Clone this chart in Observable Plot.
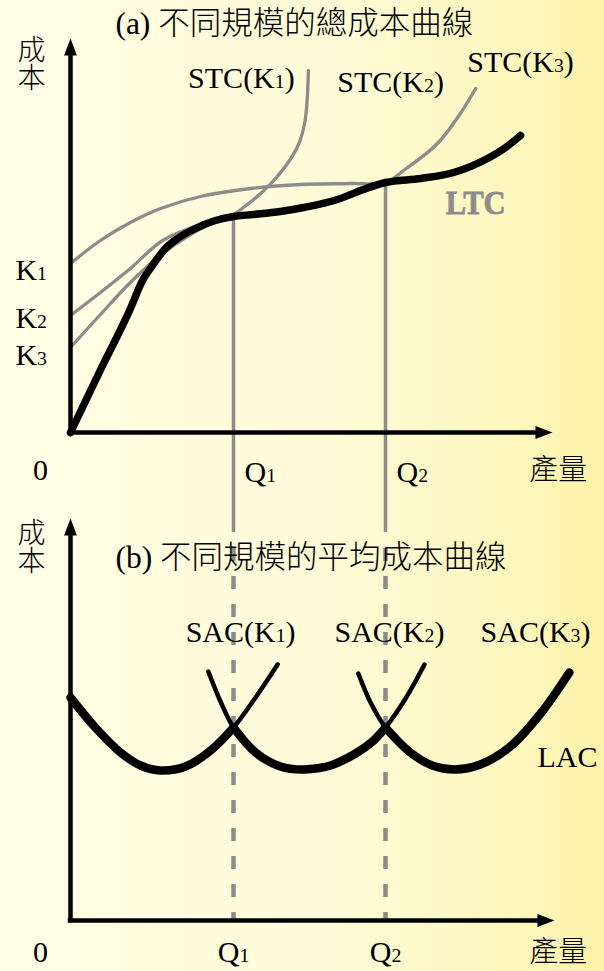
<!DOCTYPE html>
<html><head><meta charset="utf-8">
<script src="https://cdn.jsdelivr.net/npm/d3@7"></script>
<script src="https://cdn.jsdelivr.net/npm/@observablehq/plot@0.6"></script>
<style>
html,body{margin:0;padding:0;}
body{width:604px;height:971px;overflow:hidden;background:linear-gradient(to right,#fffde6 0%,#fffbd8 55%,#fdf6bb 88%,#fcf2a8 100%);}
svg{display:block}
</style></head><body><div id="chart"></div>
<script>
// ---------- data (quantity q, cost c) ----------
const Q1 = 4.14, Q2 = 8.0;
const qTicks = ["Q1", "Q2"];
const costLabel = "成本", qtyLabel = "產量", zeroLabel = "0";
const titleA = "(a) 不同規模的總成本曲線";
const titleB = "(b) 不同規模的平均成本曲線";
const kNames = ["K1", "K2", "K3"];
const kValues = [6.48, 4.56, 3.08];
const stcNames = ["STC(K1)", "STC(K2)", "STC(K3)"];
const sacNames = ["SAC(K1)", "SAC(K2)", "SAC(K3)"];

// long-run total cost
const ltc = [[0,0],[0.76,2.50],[1.50,4.88],[1.83,6.08],[2.08,6.68],[2.41,7.36],[2.72,7.76],[3.17,8.16],[3.68,8.48],[4.14,8.64],[4.65,8.72],[5.33,8.84],[5.92,9.00],[6.78,9.32],[7.44,9.72],[8.00,10.00],[8.89,10.16],[9.73,10.40],[10.59,10.96],[11.05,11.40],[11.43,11.88]];
// short-run total cost curves
const stcSteep = [[0,4.68],[0.76,5.60],[1.52,6.56],[2.34,7.68],[3.30,8.32],[4.14,8.72],[4.39,9.00],[4.83,9.56],[5.16,10.08],[5.51,10.76],[5.79,11.52],[5.95,12.40],[6.02,13.56],[6.04,14.48]];
const stcFlat = [[0,6.76],[0.76,7.68],[1.52,8.40],[2.29,8.96],[3.30,9.44],[4.57,9.76],[5.84,9.92],[7.11,9.96],[8.00,10.00],[8.46,10.48],[9.32,11.56],[9.90,12.76],[10.29,13.76]];
const stcLow = [[0,3.40],[0.76,4.72],[1.52,6.00],[2.34,7.16],[3.05,7.92],[3.68,8.44]];
// short-run average cost curves
const sac1 = [[0,8.92],[0.63,7.72],[1.27,6.72],[1.78,6.20],[2.29,6.00],[2.92,6.16],[3.56,6.80],[4.14,7.72],[4.70,8.92],[5.26,10.24]];
const sac2 = [[3.50,9.96],[3.81,8.76],[4.14,7.72],[4.70,6.72],[5.33,6.16],[5.94,6.04],[6.60,6.20],[7.24,6.68],[7.67,7.16],[8.00,7.72],[8.51,8.88],[8.99,10.24]];
const sac3 = [[7.31,9.88],[7.62,8.72],[8.00,7.72],[8.63,6.72],[9.19,6.20],[9.75,6.04],[10.41,6.24],[11.17,6.96],[11.94,8.28],[12.67,9.92]];

// ---------- derived ----------
const ltcAt = q => ltc.find(d => d[0] === q)[1];
const lac = [
  ...sac1.filter(d => d[0] <= Q1).map(d => ({q:d[0], c:d[1], s:1})),
  ...sac2.filter(d => d[0] >= Q1 && d[0] <= Q2).map(d => ({q:d[0], c:d[1], s:2})),
  ...sac3.filter(d => d[0] >= Q2).map(d => ({q:d[0], c:d[1], s:3}))
];

const gray = "#8c8c8c";
const serif = "'Liberation Serif','Times New Roman',serif";
const cjk = "'Noto Sans CJK TC','Noto Sans CJK SC',sans-serif";
const mixed = "'Liberation Serif','Noto Sans CJK TC',serif";
const arrowHead = {draw(ctx, size){ const L = Math.sqrt(size/Math.PI); ctx.moveTo(0,0); ctx.lineTo(0.38*L, L); ctx.lineTo(-0.38*L, L); ctx.closePath(); }};
const X = d => d[0], Y = d => d[1];
const xDomain = [-70/39.375, (604-70)/39.375];
const smooth = "catmull-rom";

function axes(yTip, xTip){
  return [
    Plot.ruleX([0], {y1:-0.09, y2:yTip-0.5, stroke:"black", strokeWidth:4.5}),
    Plot.ruleY([0], {x1:-0.057, x2:xTip-0.3, stroke:"black", strokeWidth:4.5}),
    Plot.dot([[0,yTip]], {x:X, y:Y, symbol:arrowHead, r:17, fill:"black", stroke:"none", rotate:0}),
    Plot.dot([[xTip,0]], {x:X, y:Y, symbol:arrowHead, r:17, fill:"black", stroke:"none", rotate:90})
  ];
}

const plotA = Plot.plot({
  width:604, height:533, marginLeft:0, marginRight:0, marginTop:0, marginBottom:0,
  style:{background:"transparent", overflow:"visible"},
  x:{domain:xDomain, axis:null}, y:{domain:[(432-533)/25, 432/25], axis:null},
  marks:[
    Plot.line(stcFlat, {x:X, y:Y, stroke:gray, strokeWidth:3.3, curve:smooth}),
    Plot.line(stcSteep, {x:X, y:Y, stroke:gray, strokeWidth:3.3, curve:smooth}),
    Plot.line(stcLow, {x:X, y:Y, stroke:gray, strokeWidth:3.3, curve:smooth}),
    Plot.ruleX([Q1, Q2], {x:d=>d, y1:d=>ltcAt(d), y2:(432-532)/25, stroke:gray, strokeWidth:3.5}),
    Plot.line(ltc, {x:X, y:Y, stroke:"black", strokeWidth:7.5, curve:"monotone-x"}),
    ...axes((432-38)/25, 12.24),
    Plot.text([titleA], {x:1.14, y:16.36, text:d=>d, textAnchor:"start", fontSize:31.5, fontFamily:mixed, fontWeight:300, fill:"black"}),
    Plot.text([costLabel], {x:-0.99, y:15.14, text:d=>d, fontSize:28, fontFamily:cjk, fontWeight:300, fill:"black"}),
    Plot.text(kNames, {x:-1.40, y:(d,i)=>kValues[i], text:d=>d, textAnchor:"start", fontSize:30, fontFamily:serif, fill:"black"}),
    Plot.text(stcNames, {x:(d,i)=>[4.34,8.13,11.43][i], y:(d,i)=>[14.16,14.0,14.8][i], text:d=>d, fontSize:30, fontFamily:serif, fill:"black"}),
    Plot.text(["LTC"], {x:10.29, y:9.16, text:d=>d, fontSize:34, fontWeight:"bold", fontFamily:serif, fill:gray, stroke:gray, strokeWidth:0.8}),
    Plot.text([zeroLabel], {x:-0.76, y:-1.52, text:d=>d, fontSize:30, fontFamily:serif, fill:"black"}),
    Plot.text(qTicks, {x:(d,i)=>[Q1,Q2][i]+0.28, y:-1.6, text:d=>d, textAnchor:"start", fontSize:30, fontFamily:serif, fill:"black"}),
    Plot.text([qtyLabel], {x:12.39, y:-1.52, text:d=>d, fontSize:29, fontFamily:cjk, fontWeight:300, fill:"black"})
  ]
});

const plotB = Plot.plot({
  width:604, height:438, marginLeft:0, marginRight:0, marginTop:0, marginBottom:0,
  style:{background:"transparent", overflow:"visible"},
  x:{domain:xDomain, axis:null}, y:{domain:[(920-971)/25, (920-533)/25], axis:null},
  marks:[
    Plot.ruleX([Q1, Q2], {x:d=>d, y1:(920-533)/25, y2:0, stroke:gray, strokeWidth:4.5, strokeDasharray:"13,15", strokeDashoffset:13}),
    Plot.line(sac1, {x:X, y:Y, stroke:"black", strokeWidth:4.5, curve:smooth}),
    Plot.line(sac2, {x:X, y:Y, stroke:"black", strokeWidth:4.5, curve:smooth}),
    Plot.line(sac3, {x:X, y:Y, stroke:"black", strokeWidth:4.5, curve:smooth}),
    Plot.line(lac, {x:"q", y:"c", z:"s", stroke:"black", strokeWidth:8.5, strokeLinecap:"round", curve:smooth}),
    ...axes((920-518)/25, 12.29),
    Plot.text([titleB], {x:1.14, y:14.52, text:d=>d, textAnchor:"start", fontSize:31.5, fontFamily:mixed, fontWeight:300, fill:"black"}),
    Plot.text([costLabel], {x:-0.99, y:15.34, text:d=>d, fontSize:28, fontFamily:cjk, fontWeight:300, fill:"black"}),
    Plot.text(sacNames, {x:(d,i)=>[4.32,8.10,11.81][i], y:11.52, text:d=>d, fontSize:30, fontFamily:serif, fill:"black"}),
    Plot.text(["LAC"], {x:12.62, y:6.52, text:d=>d, fontSize:30, fontFamily:serif, fill:"black"}),
    Plot.text([zeroLabel], {x:-0.76, y:-1.28, text:d=>d, fontSize:30, fontFamily:serif, fill:"black"}),
    Plot.text(qTicks, {x:(d,i)=>[Q1,Q2][i], y:-1.28, text:d=>d, fontSize:30, fontFamily:serif, fill:"black"}),
    Plot.text([qtyLabel], {x:12.39, y:-1.28, text:d=>d, fontSize:29, fontFamily:cjk, fontWeight:300, fill:"black"})
  ]
});

function finishText(svg){
  const ns = "http://www.w3.org/2000/svg";
  svg.querySelectorAll("text").forEach(t => {
    if (t.querySelector("tspan")) return;
    if (t.textContent === costLabel) { t.style.writingMode = "vertical-rl"; t.removeAttribute("dy"); return; }
    if (t.textContent === "LTC") { t.setAttribute("textLength", "60"); t.setAttribute("lengthAdjust", "spacingAndGlyphs"); return; }
    const m = t.textContent.match(/^(.*[KQ])(\d)(.*)$/);
    if (!m) return;
    t.textContent = "";
    const a = document.createElementNS(ns, "tspan"); a.textContent = m[1];
    const b = document.createElementNS(ns, "tspan"); b.textContent = m[2]; b.setAttribute("font-size", "0.66em");
    const c = document.createElementNS(ns, "tspan"); c.textContent = m[3];
    t.append(a, b, c);
  });
}
finishText(plotA); finishText(plotB);
document.getElementById("chart").append(plotA, plotB);
</script></body></html>
